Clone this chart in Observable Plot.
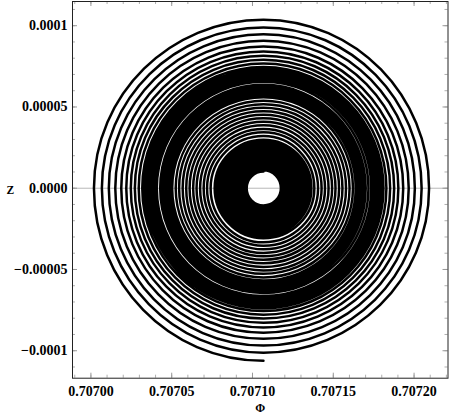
<!DOCTYPE html>
<html>
<head>
<meta charset="utf-8">
<script src="https://cdn.jsdelivr.net/npm/d3@7"></script>
<script src="https://cdn.jsdelivr.net/npm/@observablehq/plot@0.6"></script>
<style>
  html, body { margin: 0; padding: 0; background: #fff; }
</style>
</head>
<body>
<div id="chart"></div>
<script>
// Axis ticks and labels
const phiTicks = [0.70700, 0.70705, 0.70710, 0.70715, 0.70720];
const phiTickLabels = ["0.70700", "0.70705", "0.70710", "0.70715", "0.70720"];
const zTicks = [0.0001, 0.00005, 0, -0.00005, -0.0001];
const zTickLabels = ["0.0001", "0.00005", "0.0000", "\u22120.00005", "\u22120.0001"];
const phiDomain = [0.7069886, 0.707221];
const zDomain = [-0.0001169, 0.0001149];

// Spiral centre (Φ = 1/√2, Z = 0)
const phiCenter = 0.70710678;
// Distance of the trajectory from the centre (units of 1e-6), read at every
// quarter turn, clockwise: right, bottom, left, top, right, bottom, ...
// The first and the last value only steer the curve's end tangents.
const quarterRadius = [
  107.4,
  106.2, 104.9, 103.7, 102.5,
  101.2, 100.0, 98.9, 97.9,
  96.8, 95.7, 94.7, 93.7,
  92.7, 91.7, 90.8, 89.9,
  88.9, 88.0, 87.2, 86.5,
  85.7, 84.9, 84.2, 83.5,
  82.8, 82.1, 81.5, 80.9,
  80.2, 79.6, 79.0, 78.4,
  77.8, 77.2, 76.7, 76.1,
  75.6, 75.0, 74.6, 74.3,
  73.9, 73.5, 73.2, 72.9,
  72.5, 72.2, 71.9, 71.6,
  71.3, 71.0, 70.7, 70.4,
  70.1, 69.8, 69.5, 69.2,
  68.8, 68.5, 68.2, 67.9,
  67.6, 67.3, 67.0, 66.7,
  66.3, 66.0, 65.5, 65.0,
  64.4, 63.9, 63.6, 63.3,
  63.0, 62.7, 62.4, 62.1,
  61.7, 61.4, 61.1, 60.8,
  60.5, 60.2, 59.9, 59.6,
  59.3, 59.0, 58.7, 58.4,
  58.0, 57.7, 57.4, 57.1,
  56.8, 56.5, 56.0, 55.4,
  54.9, 54.3, 53.8, 53.3,
  52.7, 52.2, 51.7, 51.1,
  50.6, 50.0, 49.5, 48.9,
  48.4, 47.8, 47.3, 46.8,
  46.2, 45.7, 45.2, 44.6,
  44.0, 43.5, 43.0, 42.5,
  41.9, 41.4, 40.9, 40.3,
  39.8, 39.2, 38.7, 38.1,
  37.6, 37.0, 36.5, 36.0,
  35.4, 34.9, 34.4, 33.8,
  33.3, 32.7, 32.1, 31.5,
  30.8, 30.2, 29.9, 29.7,
  29.4, 29.1, 28.8, 28.6,
  28.3, 28.0, 27.7, 27.5,
  27.2, 26.9, 26.6, 26.4,
  26.1, 25.8, 25.5, 25.3,
  25.0, 24.7, 24.4, 24.2,
  23.9, 23.6, 23.3, 23.1,
  22.8, 22.5, 22.2, 22.0,
  21.7, 21.4, 21.1, 20.8,
  20.5, 20.2, 19.9, 19.7,
  19.4, 19.1, 18.8, 18.6,
  18.3, 18.0, 17.7, 17.5,
  17.2, 16.9, 16.6, 16.4,
  16.1, 15.8, 15.5, 15.3,
  15.0, 14.7, 14.4, 14.2,
  13.9, 13.6, 13.3, 13.1,
  12.8, 12.5, 12.2, 12.0,
  11.7, 11.4, 11.1, 10.8,
  10.6, 10.4, 10.3, 10.2
];

// directions of the quarter-turn points: right, bottom, left, top (clockwise)
const quarterDir = [[1, 0], [0, -1], [-1, 0], [0, 1]];
const trajectory = quarterRadius.map((r, i) => ({
  phi: phiCenter + quarterDir[i % 4][0] * r * 1e-6,
  z: quarterDir[i % 4][1] * r * 1e-6
}));

// Cardinal spline (tension tuned so quarter points give round arcs),
// dropping the first and last segments which only steer the end tangents.
function trimmedCardinal(tension) {
  const base = d3.curveCardinal.tension(tension);
  return function (context) {
    let seg = 0, ending = false;
    const proxy = {
      moveTo: (x, y) => context.moveTo(x, y),
      lineTo: (x, y) => { if (!ending) context.lineTo(x, y); },
      bezierCurveTo: (a, b, c, d, x, y) => {
        if (ending) return;
        if (seg++ === 0) context.moveTo(x, y);
        else context.bezierCurveTo(a, b, c, d, x, y);
      },
      closePath: () => context.closePath()
    };
    const curve = base(proxy);
    return {
      areaStart() { curve.areaStart(); },
      areaEnd() { curve.areaEnd(); },
      lineStart() { seg = 0; ending = false; curve.lineStart(); },
      lineEnd() { ending = true; curve.lineEnd(); },
      point(x, y) { curve.point(x, y); }
    };
  };
}

const W = 449, H = 417;
const mL = 72, mR = 1.5, mT = 1, mB = 39.3;
const pxX = (phiDomain[1] - phiDomain[0]) / (W - mL - mR);
const pxY = (zDomain[1] - zDomain[0]) / (H - mT - mB);

const phiMinor = d3.range(-1, 23).map(i => 0.707 + i * 1e-5).filter(v => v > phiDomain[0] && v < phiDomain[1]);
const zMinor = d3.range(-11, 12).map(i => i * 1e-5);

const phiLab = new Map(phiTicks.map((t, i) => [t, phiTickLabels[i]]));
const zLab = new Map(zTicks.map((t, i) => [t, zTickLabels[i]]));

const tickColor = "#9a9a9a";
const majL = 5, minL = 3;

const chart = Plot.plot({
  width: W, height: H,
  marginLeft: mL, marginRight: mR, marginTop: mT, marginBottom: mB,
  style: { fontFamily: "'Liberation Serif', 'DejaVu Serif', serif", fontWeight: "bold", fontSize: "14px", background: "#fff", color: "#000" },
  x: { domain: phiDomain },
  y: { domain: zDomain },
  marks: [
    Plot.ruleY([0], { stroke: "#b8b8b8", strokeWidth: 1 }),
    Plot.line(trajectory, { x: "phi", y: "z", curve: trimmedCardinal(-0.657), stroke: "#000", strokeWidth: 2.5 }),
    // inward ticks on all four sides
    Plot.ruleX(phiMinor, { x: d => d, y1: zDomain[0], y2: zDomain[0] + minL * pxY, stroke: tickColor, strokeWidth: 0.8 }),
    Plot.ruleX(phiMinor, { x: d => d, y1: zDomain[1], y2: zDomain[1] - minL * pxY, stroke: tickColor, strokeWidth: 0.8 }),
    Plot.ruleX(phiTicks, { x: d => d, y1: zDomain[0], y2: zDomain[0] + majL * pxY, stroke: tickColor, strokeWidth: 1 }),
    Plot.ruleX(phiTicks, { x: d => d, y1: zDomain[1], y2: zDomain[1] - majL * pxY, stroke: tickColor, strokeWidth: 1 }),
    Plot.ruleY(zMinor, { y: d => d, x1: phiDomain[0], x2: phiDomain[0] + minL * pxX, stroke: tickColor, strokeWidth: 0.8 }),
    Plot.ruleY(zMinor, { y: d => d, x1: phiDomain[1], x2: phiDomain[1] - minL * pxX, stroke: tickColor, strokeWidth: 0.8 }),
    Plot.ruleY(zTicks, { y: d => d, x1: phiDomain[0], x2: phiDomain[0] + majL * pxX, stroke: tickColor, strokeWidth: 1 }),
    Plot.ruleY(zTicks, { y: d => d, x1: phiDomain[1], x2: phiDomain[1] - majL * pxX, stroke: tickColor, strokeWidth: 1 }),
    Plot.frame({ stroke: "#222", strokeWidth: 1 }),
    Plot.axisX({ ticks: phiTicks, tickFormat: d => phiLab.get(d), tickSize: 0, tickPadding: 8, label: null, fontSize: 14 }),
    Plot.axisY({ ticks: zTicks, tickFormat: d => zLab.get(d), tickSize: 0, tickPadding: 5, label: null, fontSize: 14 }),
    Plot.text(["\u03a6"], { text: d => d, frameAnchor: "bottom", dy: 34, fontSize: 12, fontWeight: "bold" }),
    Plot.text(["Z"], { text: d => d, frameAnchor: "left", dx: -66, fontSize: 11.5, fontWeight: "bold" })
  ]
});
document.getElementById("chart").appendChild(chart);
</script>
</body>
</html>
